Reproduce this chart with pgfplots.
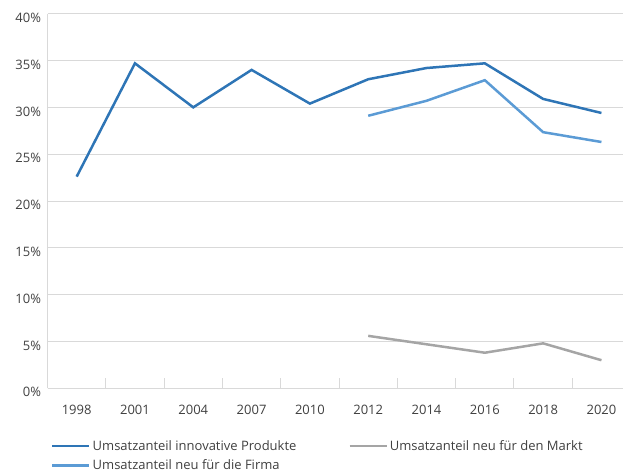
\documentclass[border=0pt]{standalone}
\usepackage{fontspec}
\setmainfont{Open Sans}
\usepackage{pgfplots}
\pgfplotsset{compat=1.18}
\definecolor{dblue}{HTML}{2E75B6}
\definecolor{lblue}{HTML}{5B9BD5}
\definecolor{grayl}{HTML}{A5A5A5}
\definecolor{gridc}{HTML}{D9D9D9}
\definecolor{txt}{HTML}{404040}
\begin{document}
\begin{tikzpicture}[x=1pt,y=1pt]
\useasboundingbox (0,0) rectangle (623,-473);
\begin{axis}[
 at={(47.5pt,-388.3pt)}, anchor=south west,
 scale only axis, width=575.5pt, height=374.6pt,
 xmin=-0.5, xmax=9.37, ymin=0, ymax=40,
 axis lines*=left,
 axis line style={gridc, line width=1pt},
 xtick={0,...,9},
 xticklabels={1998,2001,2004,2007,2010,2012,2014,2016,2018,2020},
 major x tick style={draw=none},
 minor xtick={0.5,1.5,...,8.5},
 minor tick length=10pt, tick align=inside,
 minor x tick style={gridc, line width=1pt},
 ytick={0,5,...,40},
 yticklabel={\pgfmathprintnumber{\tick}\%},
 ymajorgrids, major grid style={gridc, line width=1pt},
 major y tick style={draw=none},
 ticklabel style={font=\fontsize{13}{15}\selectfont, text=txt},
 xticklabel style={yshift=-13pt},
 yticklabel style={xshift=-3pt, yshift=-4pt},
 /pgf/number format/assume math mode=true,
 no markers,
 legend columns=2,
 legend cell align=left,
 legend style={at={(0,0)}, anchor=north west, draw=none, fill=none,
   font=\fontsize{13}{15}\selectfont, text=txt, yshift=-48pt, xshift=0.5pt,
   /tikz/every even column/.append style={column sep=50pt},
   row sep=4pt},
 legend image code/.code={\draw[#1, line width=2.5pt] (-6pt,0pt) -- (31pt,0pt);},
]
\addplot[dblue, line width=2.5pt] coordinates {
 (0,22.6) (1,34.7) (2,30.0) (3,34.0) (4,30.4) (5,33.0) (6,34.2) (7,34.7) (8,30.9) (9,29.4)};
\addlegendentry{Umsatzanteil innovative Produkte}
\addplot[grayl, line width=2.5pt] coordinates {
 (5,5.6) (6,4.7) (7,3.8) (8,4.8) (9,3.0)};
\addlegendentry{Umsatzanteil neu für den Markt}
\addplot[lblue, line width=2.5pt] coordinates {
 (5,29.1) (6,30.7) (7,32.9) (8,27.35) (9,26.3)};
\addlegendentry{Umsatzanteil neu für die Firma}
\end{axis}
\end{tikzpicture}
\end{document}
